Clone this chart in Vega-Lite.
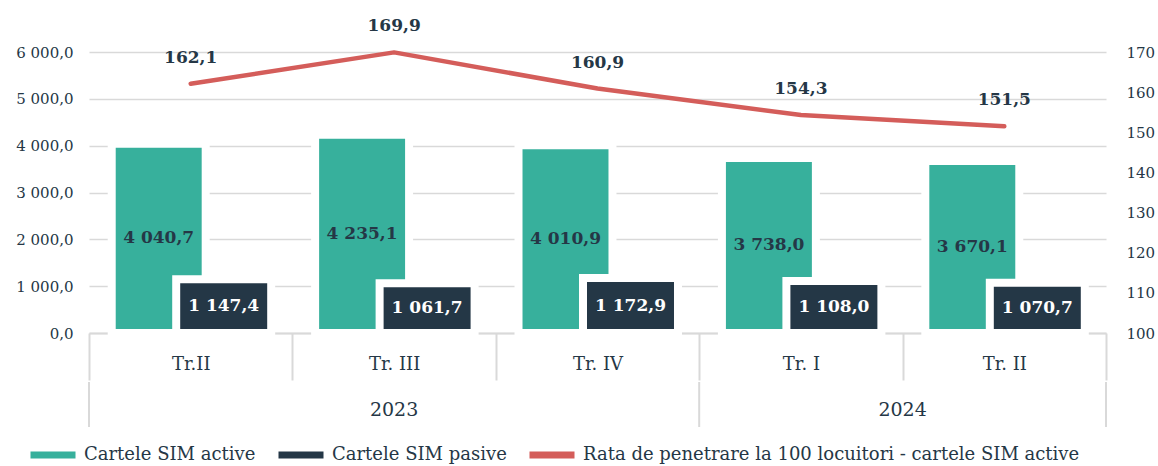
{
  "$schema": "https://vega.github.io/schema/vega-lite/v6.json",
  "padding": {"left": 15, "top": 17, "right": 5, "bottom": 2},
  "config": {
    "font": "DejaVu Serif",
    "view": {"stroke": null},
    "style": {"guide-label": {"font": "DejaVu Serif"}, "guide-title": {"font": "DejaVu Serif"}},
    "locale": {"number": {"decimal": ",", "thousands": " ", "grouping": [3], "currency": ["", ""]}},
    "legend": {
      "orient": "none",
      "legendX": -62,
      "legendY": 377,
      "direction": "horizontal",
      "symbolType": "stroke",
      "symbolSize": 2025,
      "symbolStrokeWidth": 7,
      "labelFont": "DejaVu Serif, serif",
      "labelFontSize": 18,
      "labelColor": "#253746",
      "labelLimit": 1000,
      "labelOffset": 5,
      "columnPadding": 8
    }
  },
  "datasets": {
    "q": [
      {"q": "Tr.II", "year": "2023", "active": 4040.7, "passive": 1147.4, "rate": 162.1},
      {"q": "Tr. III", "year": "2023", "active": 4235.1, "passive": 1061.7, "rate": 169.9},
      {"q": "Tr. IV", "year": "2023", "active": 4010.9, "passive": 1172.9, "rate": 160.9},
      {"q": "Tr. I", "year": "2024", "active": 3738.0, "passive": 1108.0, "rate": 154.3},
      {"q": "Tr. II", "year": "2024", "active": 3670.1, "passive": 1070.7, "rate": 151.5}
    ]
  },
  "spacing": 0,
  "vconcat": [
    {
      "width": 1017,
      "height": 281,
      "data": {"name": "q"},
      "encoding": {
        "x": {
          "field": "q", "type": "ordinal", "sort": null,
          "scale": {"paddingInner": 0, "paddingOuter": 0},
          "axis": {
            "title": null, "labelAngle": 0, "tickBand": "extent", "tickSize": 47, "tickWidth": 2,
            "tickColor": "#d9d9d9", "domainColor": "#d9d9d9", "domainWidth": 2,
            "labelFont": "DejaVu Serif", "labelFontSize": 18, "labelColor": "#253746", "labelPadding": -16, "labelBaseline": "middle",
            "grid": false
          }
        }
      },
      "layer": [
        {
          "mark": {"type": "bar", "width": {"band": 0.462}, "xOffset": -32, "stroke": "white", "strokeWidth": 8},
          "encoding": {
            "y": {
              "field": "active", "type": "quantitative", "scale": {"domain": [0, 6000]},
              "axis": {
                "title": null, "orient": "left", "domain": false, "ticks": false, "grid": true,
                "gridColor": "#d9d9d9", "gridWidth": 1.5, "values": [0, 1000, 2000, 3000, 4000, 5000, 6000],
                "format": ",.1f", "labelFont": "DejaVu Serif", "labelFontSize": 15, "labelColor": "#253746", "labelPadding": 16
              }
            },
            "color": {
              "datum": "Cartele SIM active", "title": null,
              "scale": {
                "domain": ["Cartele SIM active", "Cartele SIM pasive", "Rata de penetrare la 100 locuitori - cartele SIM active"],
                "range": ["#37B09C", "#243746", "#D45D5A"]
              },
              "legend": {
                "title": null,
                "labelFont": "DejaVu Serif, serif",
                "encode": {
                  "symbols": {"update": {"stroke": {"scale": "color", "field": "value"}, "fill": {"value": "transparent"}, "strokeWidth": {"value": 7}, "opacity": {"value": 1}}}
                }
              }
            }
          }
        },
        {
          "mark": {"type": "bar", "width": {"band": 0.467}, "xOffset": 33, "stroke": "white", "strokeWidth": 8},
          "encoding": {
            "y": {"field": "passive", "type": "quantitative", "scale": {"domain": [0, 6000]}, "axis": null},
            "color": {"datum": "Cartele SIM pasive", "title": null}
          }
        },
        {
          "mark": {"type": "text", "xOffset": -32, "fontWeight": "bold", "fontSize": 17, "color": "#253746", "baseline": "middle"},
          "encoding": {
            "y": {"field": "active", "type": "quantitative", "scale": {"domain": [0, 12000]}, "axis": null},
            "text": {"field": "active", "type": "quantitative", "format": ",.1f"}
          }
        },
        {
          "mark": {"type": "text", "xOffset": 33, "fontWeight": "bold", "fontSize": 17, "color": "white", "baseline": "middle"},
          "encoding": {
            "y": {"field": "passive", "type": "quantitative", "scale": {"domain": [0, 12000]}, "axis": null},
            "text": {"field": "passive", "type": "quantitative", "format": ",.1f"}
          }
        },
        {
          "mark": {"type": "line", "strokeWidth": 4.5, "strokeCap": "round", "strokeJoin": "round"},
          "encoding": {
            "y": {
              "field": "rate", "type": "quantitative", "scale": {"domain": [100, 170]},
              "axis": {
                "title": null, "orient": "right", "domain": false, "ticks": false, "grid": false,
                "values": [100, 110, 120, 130, 140, 150, 160, 170], "format": "d",
                "labelFont": "DejaVu Serif", "labelFontSize": 15, "labelColor": "#253746", "labelPadding": 20
              }
            },
            "color": {"datum": "Rata de penetrare la 100 locuitori - cartele SIM active", "title": null}
          }
        },
        {
          "mark": {"type": "text", "dy": -26, "fontWeight": "bold", "fontSize": 17, "color": "#253746", "baseline": "middle"},
          "encoding": {
            "y": {"field": "rate", "type": "quantitative", "scale": {"domain": [100, 170]}, "axis": null},
            "text": {"field": "rate", "type": "quantitative", "format": ",.1f"}
          }
        }
      ],
      "resolve": {"scale": {"y": "independent"}}
    },
    {
      "width": 1017,
      "height": 45,
      "data": {"name": "q"},
      "layer": [
        {
          "transform": [{"filter": "datum.q == 'Tr.II' || datum.q == 'Tr. I'"}],
          "mark": {"type": "rule", "color": "#d9d9d9", "strokeWidth": 2},
          "encoding": {
            "x": {"field": "q", "type": "ordinal", "bandPosition": 0,
              "scale": {"domain": ["Tr.II", "Tr. III", "Tr. IV", "Tr. I", "Tr. II"], "paddingInner": 0, "paddingOuter": 0},
              "axis": null}
          }
        },
        {
          "transform": [{"filter": "datum.q == 'Tr. II'"}],
          "mark": {"type": "rule", "color": "#d9d9d9", "strokeWidth": 2},
          "encoding": {
            "x": {"field": "q", "type": "ordinal", "bandPosition": 1, "axis": null}
          }
        },
        {
          "transform": [{"filter": "datum.q == 'Tr. III'"}],
          "mark": {"type": "text", "fontSize": 19, "color": "#253746", "baseline": "middle", "dy": 5},
          "encoding": {
            "x": {"field": "q", "type": "ordinal", "bandPosition": 0.5, "axis": null},
            "text": {"field": "year"}
          }
        },
        {
          "transform": [{"filter": "datum.q == 'Tr. I'"}],
          "mark": {"type": "text", "fontSize": 19, "color": "#253746", "baseline": "middle", "dy": 5},
          "encoding": {
            "x": {"field": "q", "type": "ordinal", "bandPosition": 1, "axis": null},
            "text": {"field": "year"}
          }
        }
      ]
    }
  ]
}
